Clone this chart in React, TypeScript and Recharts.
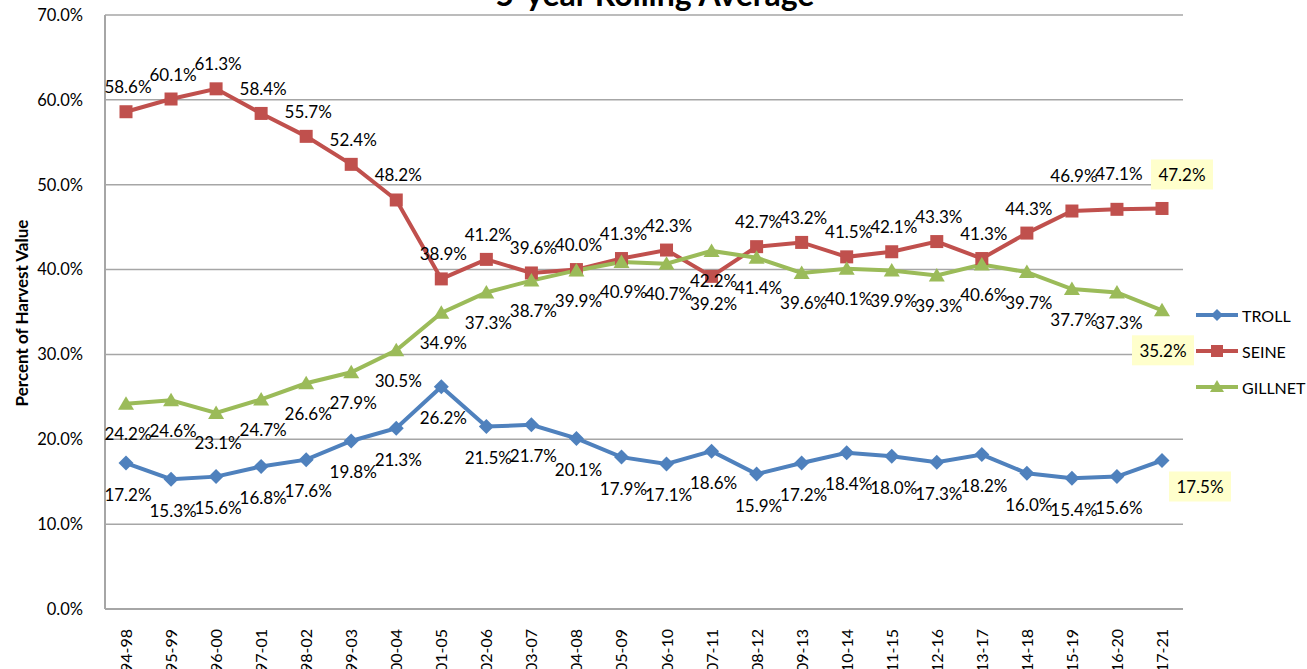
import React from "react";
import {
  LineChart,
  Line,
  XAxis,
  YAxis,
  CartesianGrid,
} from "recharts";

// 5-year rolling windows
const periodos = [
  "94-98", "95-99", "96-00", "97-01", "98-02", "99-03", "00-04", "01-05",
  "02-06", "03-07", "04-08", "05-09", "06-10", "07-11", "08-12", "09-13",
  "10-14", "11-15", "12-16", "13-17", "14-18", "15-19", "16-20", "17-21",
];

const troll = [
  17.2, 15.3, 15.6, 16.8, 17.6, 19.8, 21.3, 26.2, 21.5, 21.7, 20.1, 17.9,
  17.1, 18.6, 15.9, 17.2, 18.4, 18.0, 17.3, 18.2, 16.0, 15.4, 15.6, 17.5,
];

const seine = [
  58.6, 60.1, 61.3, 58.4, 55.7, 52.4, 48.2, 38.9, 41.2, 39.6, 40.0, 41.3,
  42.3, 39.2, 42.7, 43.2, 41.5, 42.1, 43.3, 41.3, 44.3, 46.9, 47.1, 47.2,
];

const gillnet = [
  24.2, 24.6, 23.1, 24.7, 26.6, 27.9, 30.5, 34.9, 37.3, 38.7, 39.9, 40.9,
  40.7, 42.2, 41.4, 39.6, 40.1, 39.9, 39.3, 40.6, 39.7, 37.7, 37.3, 35.2,
];

const yTicks = [0, 10, 20, 30, 40, 50, 60, 70];

const dados = periodos.map((p, i) => ({
  periodo: p,
  troll: troll[i],
  seine: seine[i],
  gillnet: gillnet[i],
}));

const FONTE = "Lato, 'Open Sans', sans-serif";
const AZUL = "#4F81BD";
const VERMELHO = "#C0504D";
const VERDE = "#9BBB59";
const ULTIMO = periodos.length - 1;

const fmt = (v: number) => `${v.toFixed(1)}%`;

// rótulo do último ponto: caixa amarela
function Destaque({ cx, cy, texto }: { cx: number; cy: number; texto: string }) {
  return (
    <g>
      <rect x={cx - 31} y={cy - 15} width={62} height={30} fill="#FFFFCC" />
      <text x={cx} y={cy} textAnchor="middle" dominantBaseline="central"
        fontFamily={FONTE} fontSize={17} fill="#000">
        {texto}
      </text>
    </g>
  );
}

function rotulo(serie: "troll" | "seine" | "gillnet") {
  return (props: any) => {
    const { x, y, value, index } = props;
    if (value == null) return null;
    const t = fmt(value);
    if (index === ULTIMO) {
      if (serie === "seine") return <Destaque key={index} cx={x + 20} cy={y - 34} texto={t} />;
      if (serie === "gillnet") return <Destaque key={index} cx={x + 1} cy={y + 40} texto={t} />;
      return <Destaque key={index} cx={x + 38} cy={y + 26} texto={t} />;
    }
    let dy = 30;
    if (serie === "seine") {
      dy = -25;
      if (index === 13) dy = 27;
      if (index === 21 || index === 22) dy = -36;
    }
    if (serie === "troll") dy = 31;
    return (
      <text key={index} x={x + 2} y={y + dy} textAnchor="middle" dominantBaseline="central"
        fontFamily={FONTE} fontSize={17} fill="#000">
        {t}
      </text>
    );
  };
}

const Losango = (props: any) => {
  const { cx, cy } = props;
  if (cx == null) return null;
  return <path d={`M${cx},${cy - 7.5}L${cx + 7.5},${cy}L${cx},${cy + 7.5}L${cx - 7.5},${cy}Z`} fill={AZUL} />;
};

const Quadrado = (props: any) => {
  const { cx, cy } = props;
  if (cx == null) return null;
  return <rect x={cx - 6.5} y={cy - 6.5} width={13} height={13} fill={VERMELHO} />;
};

const Triangulo = (props: any) => {
  const { cx, cy } = props;
  if (cx == null) return null;
  return <path d={`M${cx},${cy - 7.5}L${cx + 8},${cy + 6}L${cx - 8},${cy + 6}Z`} fill={VERDE} />;
};

const TickX = (props: any) => {
  const { x, y, payload } = props;
  return (
    <text x={x + 6} y={y + 12} transform={`rotate(-90 ${x + 6} ${y + 12})`}
      textAnchor="end" fontFamily={FONTE} fontSize={16} fill="#000">
      {payload.value}
    </text>
  );
};

function Legenda() {
  const itens = [
    { nome: "TROLL", cor: AZUL, forma: "diamond" },
    { nome: "SEINE", cor: VERMELHO, forma: "square" },
    { nome: "GILLNET", cor: VERDE, forma: "triangle" },
  ];
  return (
    <svg width={114} height={100} style={{ position: "absolute", left: 1193, top: 300 }}>
      {itens.map((it, i) => {
        const cy = 15 + i * 36;
        const cx = 24;
        return (
          <g key={it.nome}>
            <line x1={3} x2={45} y1={cy} y2={cy} stroke={it.cor} strokeWidth={4} />
            {it.forma === "diamond" && (
              <path d={`M${cx},${cy - 6}L${cx + 6},${cy}L${cx},${cy + 6}L${cx - 6},${cy}Z`} fill={it.cor} />
            )}
            {it.forma === "square" && <rect x={cx - 6} y={cy - 6} width={12} height={12} fill={it.cor} />}
            {it.forma === "triangle" && (
              <path d={`M${cx},${cy - 7}L${cx + 7},${cy + 5}L${cx - 7},${cy + 5}Z`} fill={it.cor} />
            )}
            <text x={49} y={cy} dominantBaseline="central" fontFamily={FONTE} fontSize={16} fill="#000">
              {it.nome}
            </text>
          </g>
        );
      })}
    </svg>
  );
}

export default function App() {
  return (
    <div style={{ position: "absolute", left: 0, top: 0, width: 1307, height: 669, background: "#fff", overflow: "hidden" }}>
      <LineChart
        width={1307}
        height={669}
        data={dados}
        margin={{ top: 15, right: 124, bottom: 0, left: 35 }}
      >
        <CartesianGrid vertical={false} stroke="#A6A6A6" strokeWidth={1.5} />
        <XAxis
          dataKey="periodo"
          interval={0}
          height={60}
          padding={{ left: 21, right: 21 }}
          tick={<TickX />}
          tickLine={false}
          axisLine={{ stroke: "#A6A6A6", strokeWidth: 2 }}
        />
        <YAxis
          width={70}
          domain={[0, 70]}
          ticks={yTicks}
          tickFormatter={fmt}
          tick={{ fontFamily: FONTE, fontSize: 16.5, fill: "#000" }}
          tickLine={false}
          tickMargin={16}
          axisLine={{ stroke: "#A6A6A6", strokeWidth: 2 }}
        />
        <Line
          dataKey="troll"
          name="TROLL"
          stroke={AZUL}
          strokeWidth={4}
          dot={<Losango />}
          label={rotulo("troll")}
          isAnimationActive={false}
        />
        <Line
          dataKey="seine"
          name="SEINE"
          stroke={VERMELHO}
          strokeWidth={4}
          dot={<Quadrado />}
          label={rotulo("seine")}
          isAnimationActive={false}
        />
        <Line
          dataKey="gillnet"
          name="GILLNET"
          stroke={VERDE}
          strokeWidth={4}
          dot={<Triangulo />}
          label={rotulo("gillnet")}
          isAnimationActive={false}
        />
        <text x={655} y={6} textAnchor="middle" fontFamily={FONTE} fontWeight="bold" fontSize={32} fill="#000">
          5-year Rolling Average
        </text>
        <text
          x={21}
          y={313}
          transform="rotate(-90 21 313)"
          textAnchor="middle"
          dominantBaseline="central"
          fontFamily={FONTE}
          fontWeight="bold"
          fontSize={17}
          fill="#000"
        >
          Percent of Harvest Value
        </text>
      </LineChart>
      <Legenda />
    </div>
  );
}
